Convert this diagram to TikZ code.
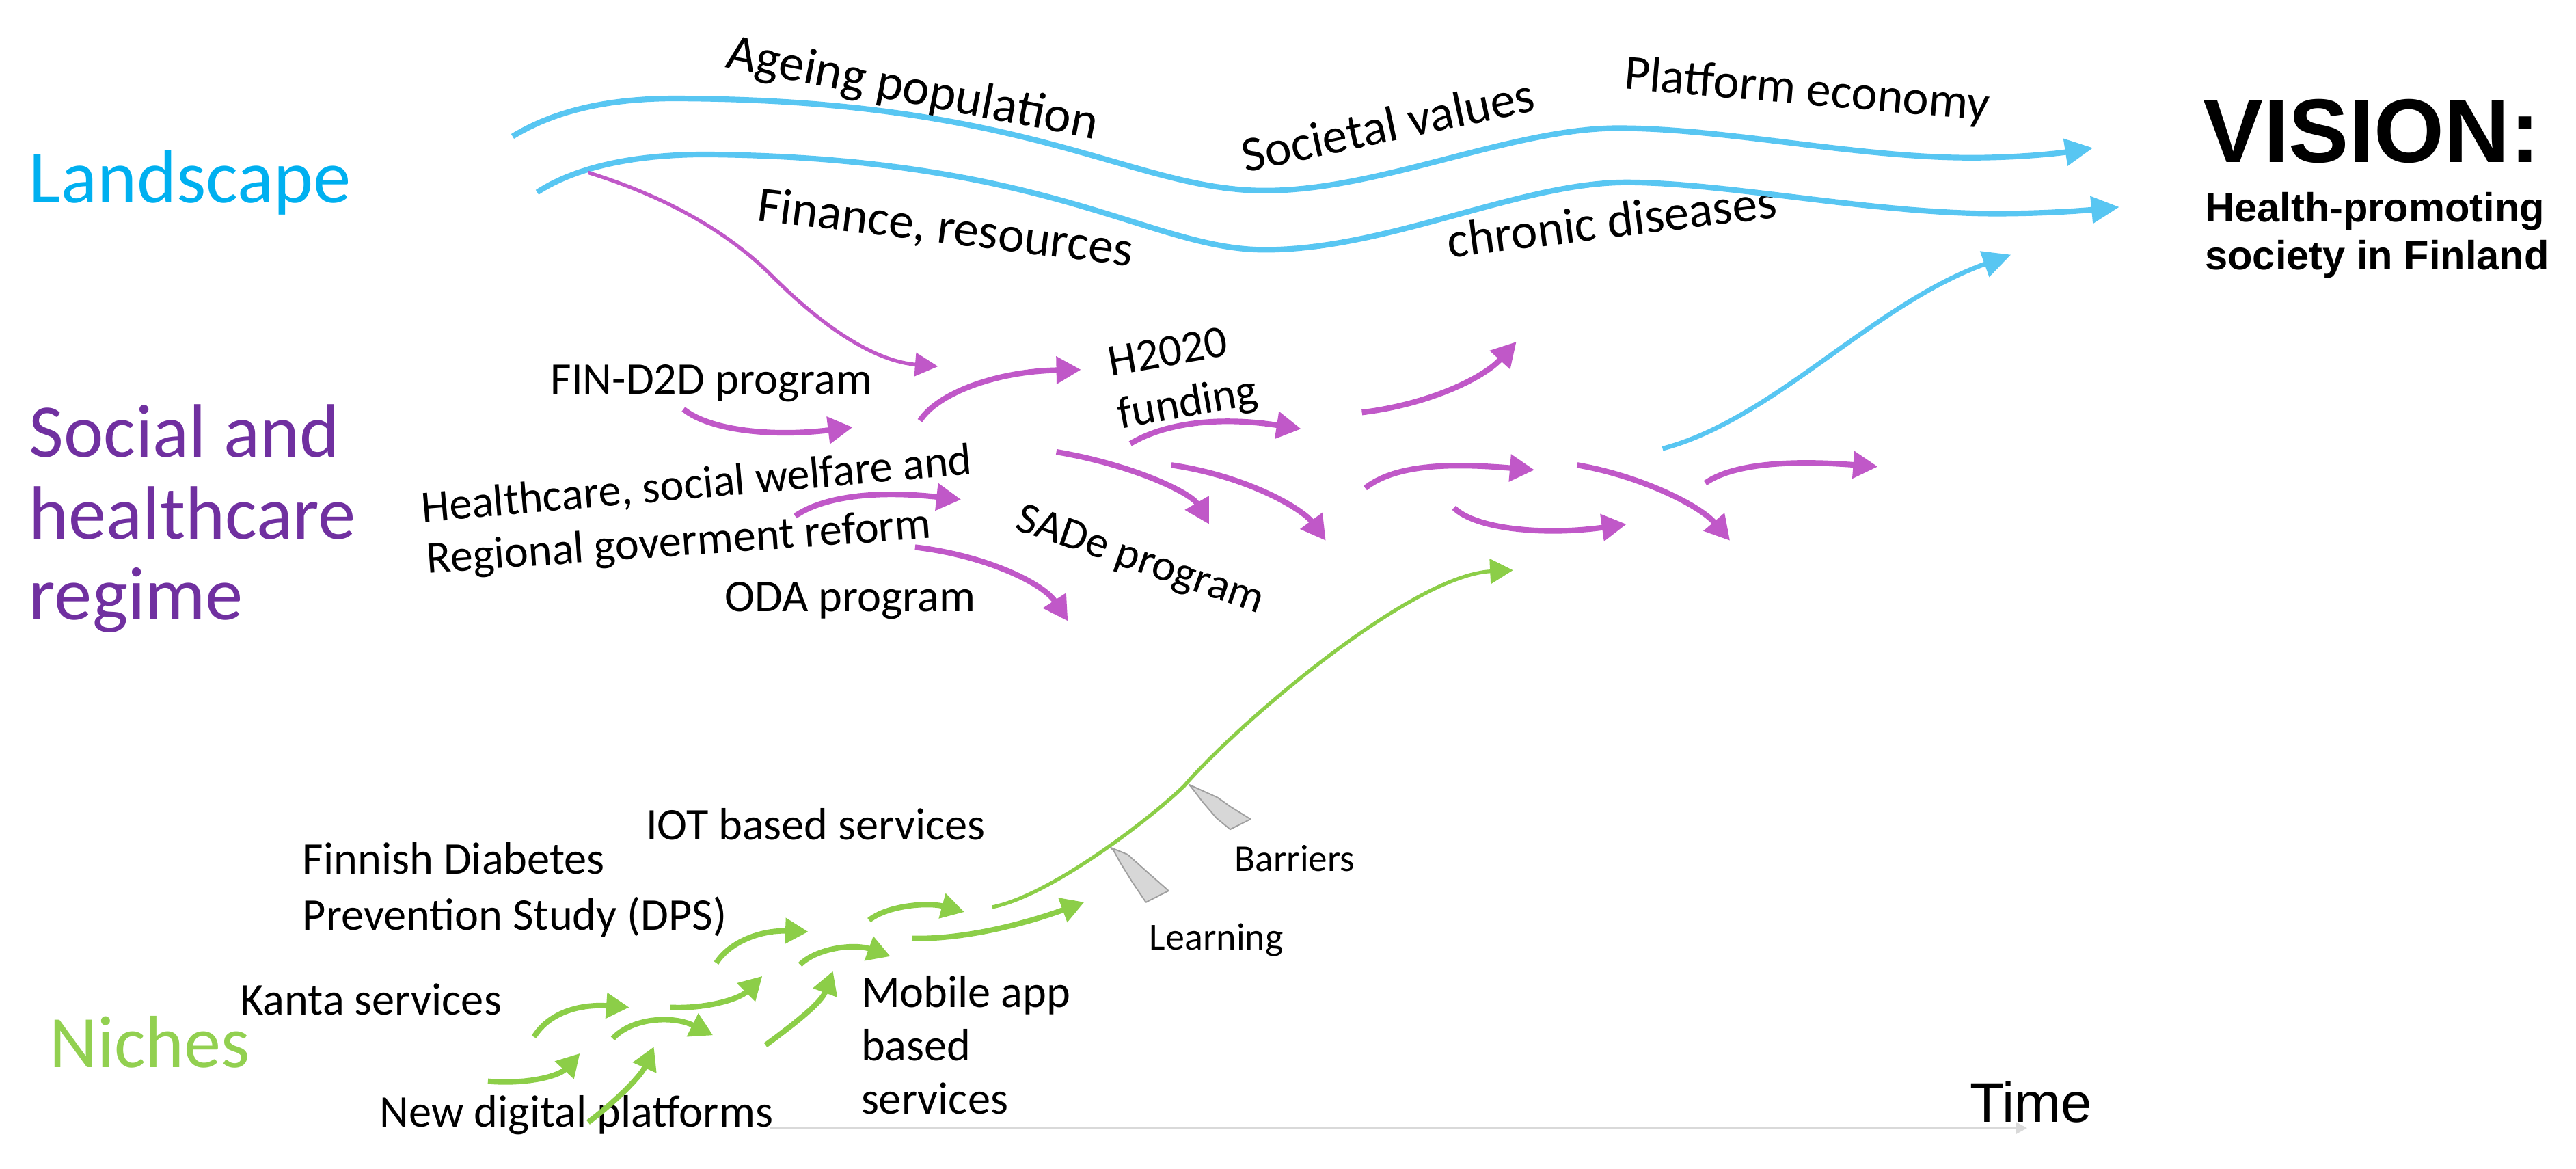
\documentclass[tikz,border=0pt]{standalone}
\usepackage{fontspec}
\setmainfont{Carlito}
\newfontfamily\arialfont{Liberation Sans}
\usetikzlibrary{arrows.meta}
\definecolor{lscyan}{RGB}{0,176,240}
\definecolor{curvecyan}{RGB}{88,198,242}
\definecolor{regmag}{RGB}{192,88,200}
\definecolor{regpurple}{RGB}{112,48,160}
\definecolor{nichegreen}{RGB}{146,208,80}
\definecolor{curvegreen}{RGB}{140,206,72}
\definecolor{axisgray}{RGB}{217,217,217}
\definecolor{markfill}{RGB}{215,215,215}
\definecolor{markdraw}{RGB}{160,160,160}
\begin{document}
\begin{tikzpicture}[x=1pt,y=-1pt,
  lbl/.style={inner sep=0pt, anchor=base west, font=\fontsize{27.6}{33}\selectfont},
  rlbl/.style={inner sep=0pt, anchor=base west, font=\fontsize{30.5}{36}\selectfont},
  biglbl/.style={inner sep=0pt, anchor=base west, font=\fontsize{46}{50}\selectfont},
  cyanarrow/.style={draw=curvecyan, line width=3.4pt, -{Triangle[length=17pt,width=16pt]}},
  magarrow/.style={draw=regmag, line width=3.4pt, -{Triangle[length=15pt,width=16pt]}},
  grnarrow/.style={draw=curvegreen, line width=3.3pt, -{Triangle[length=14pt,width=15pt]}},
  marker/.style={fill=markfill, draw=markdraw, line width=0.8pt, line join=round}]
\useasboundingbox (0,0) rectangle (1568,711.4);
\fill[white] (0,0) rectangle (1568,711.4);

% ---------- level labels ----------
\node[biglbl, text=lscyan] (landscape) at (17.6,123.4) {Landscape};
\node[biglbl, text=regpurple] (reg1) at (17.6,278) {Social and};
\node[biglbl, text=regpurple] (reg2) at (17.6,328) {healthcare};
\node[biglbl, text=regpurple] (reg3) at (17.6,377) {regime};
\node[biglbl, text=nichegreen, font=\fontsize{45}{50}\selectfont] (niches) at (30,649.6) {Niches};

% ---------- vision ----------
\node[inner sep=0pt, anchor=base west, font=\arialfont\bfseries\fontsize{55}{60}\selectfont] (vision) at (1341,99) {VISION:};
\node[inner sep=0pt, anchor=base west, font=\arialfont\bfseries\fontsize{24.8}{29}\selectfont] (vis1) at (1342,135) {Health-promoting};
\node[inner sep=0pt, anchor=base west, font=\arialfont\bfseries\fontsize{24.8}{29}\selectfont] (vis2) at (1342,164) {society in Finland};

% ---------- landscape texts ----------
\node[rlbl, font=\fontsize{31}{36}\selectfont, rotate=-11] (ageing) at (441,41) {Ageing population};
\node[rlbl, rotate=12] (societal) at (758,105) {Societal values};
\node[rlbl, font=\fontsize{30}{36}\selectfont, rotate=-5] (platform) at (988,54) {Platform economy};
\node[rlbl, rotate=-7] (finance) at (460,134) {Finance, resources};
\node[rlbl, rotate=7] (chronic) at (882,157) {chronic diseases};

% ---------- regime texts ----------
\node[lbl] (find2d) at (335,240) {FIN-D2D program};
\node[lbl, rotate=10] (h2020) at (676,229) {H2020};
\node[lbl, rotate=10] (funding) at (682,261) {funding};
\node[lbl, rotate=5] (health) at (257,318) {Healthcare, social welfare and};
\node[lbl, rotate=4] (regional) at (260,349) {Regional goverment reform};
\node[lbl] (oda) at (441,372) {ODA program};
\node[lbl, font=\fontsize{27}{33}\selectfont, rotate=-19] (sade) at (617,322) {SADe program};

% ---------- niche texts ----------
\node[lbl] (iot) at (393,511) {IOT based services};
\node[lbl] (dps1) at (184,532) {Finnish Diabetes};
\node[lbl] (dps2) at (184,566) {Prevention Study (DPS)};
\node[lbl] (kanta) at (146,617.6) {Kanta services};
\node[lbl] (newdig) at (231,686) {New digital platforms};
\node[lbl] (mob1) at (524,613) {Mobile app};
\node[lbl] (mob2) at (524,645.5) {based};
\node[lbl] (mob3) at (524,678) {services};
\node[lbl, font=\fontsize{23.3}{28}\selectfont] (learning) at (699.5,578) {Learning};
\node[lbl, font=\fontsize{23}{28}\selectfont] (barriers) at (751.5,530.4) {Barriers};
\node[inner sep=0pt, anchor=base west, font=\arialfont\fontsize{34}{40}\selectfont] (time) at (1199,683) {Time};

% ---------- time axis ----------
\draw[axisgray, line width=1.8pt, -{Triangle[length=7pt,width=7pt]}] (469,686.5) -- (1234,686.5);

% ---------- landscape arrows ----------
\draw[cyanarrow] (312,83) .. controls (340,66) and (375,59) .. (420,60)
  .. controls (630,62) and (690,116) .. (770,116)
  .. controls (840,116) and (920,78) .. (985,78)
  .. controls (1050,78) and (1130,96) .. (1200,96)
  .. controls (1230,96) and (1255,93) .. (1274,90);
\draw[cyanarrow] (327,117) .. controls (350,102) and (385,94) .. (430,94)
  .. controls (640,96) and (700,152) .. (770,152)
  .. controls (845,152) and (925,111) .. (990,111)
  .. controls (1050,111) and (1140,130) .. (1215,130)
  .. controls (1245,130) and (1270,128) .. (1290,126);
\draw[cyanarrow, line width=2.8pt] (1012,273) .. controls (1080,255) and (1140,185) .. (1224,155);

% ---------- regime arrows ----------
\draw[magarrow, line width=2.2pt, -{Triangle[length=14pt,width=14pt]}] (358,105) .. controls (400,118) and (440,138) .. (470,168)
  .. controls (505,203) and (535,220) .. (571,223);
\draw[magarrow] (416,249) .. controls (432,262) and (470,266) .. (519,260);
\draw[magarrow] (560,256) .. controls (570,240) and (605,226) .. (658,225);
\draw[magarrow] (688,270) .. controls (708,258) and (740,253) .. (792,261);
\draw[magarrow] (829,251) .. controls (870,246) and (903,230) .. (923,208);
\draw[magarrow] (643,275) .. controls (690,283) and (725,300) .. (736,319);
\draw[magarrow] (713,283) .. controls (760,290) and (793,310) .. (807,329);
\draw[magarrow] (831,297) .. controls (850,282) and (885,282) .. (934,286);
\draw[magarrow] (885,309) .. controls (898,322) and (940,326) .. (990,319);
\draw[magarrow] (960,283) .. controls (1000,290) and (1035,308) .. (1053,329);
\draw[magarrow] (1038,294) .. controls (1055,282) and (1090,280) .. (1143,284);
\draw[magarrow] (484,314) .. controls (500,303) and (530,298) .. (585,304);
\draw[magarrow] (557,333) .. controls (600,338) and (635,355) .. (650,378);

% ---------- niche arrows ----------
\draw[grnarrow, line width=2.2pt] (604,552) .. controls (640,545) and (703,496) .. (721,478)
  .. controls (757,437) and (860,350) .. (921,347);
\draw[grnarrow] (325,631) .. controls (335,615) and (355,611) .. (383,613);
\draw[grnarrow] (297,658) .. controls (320,660) and (340,655) .. (353,641);
\draw[grnarrow] (373,632) .. controls (385,619) and (410,618) .. (434,630);
\draw[grnarrow] (358,683) .. controls (375,670) and (390,655) .. (398,637);
\draw[grnarrow] (408,613) .. controls (430,614) and (450,608) .. (464,594);
\draw[grnarrow] (436,586) .. controls (445,572) and (465,566) .. (492,567);
\draw[grnarrow] (466,636) .. controls (485,622) and (500,610) .. (507,591);
\draw[grnarrow] (487,587) .. controls (497,577) and (520,574) .. (542,582);
\draw[grnarrow] (529,560) .. controls (540,551) and (565,549) .. (587,555);
\draw[grnarrow] (555,571) .. controls (590,572) and (630,560) .. (660,549);

% ---------- learning / barriers markers ----------
\draw[marker] (676,515.8) -- (686.4,520) -- (698.8,531.1) -- (711.3,542.1) -- (697.5,549.1)
  -- (689.1,536.6) -- (682.2,525.5) -- (678,517.9) -- cycle;
\draw[marker] (723.8,477.5) -- (741.1,485.3) -- (748.8,490.8) -- (761.2,498.5) -- (748.8,504.7)
  -- (740.4,497.8) -- (732.1,488.1) -- (725.2,479.1) -- cycle;
\end{tikzpicture}
\end{document}
